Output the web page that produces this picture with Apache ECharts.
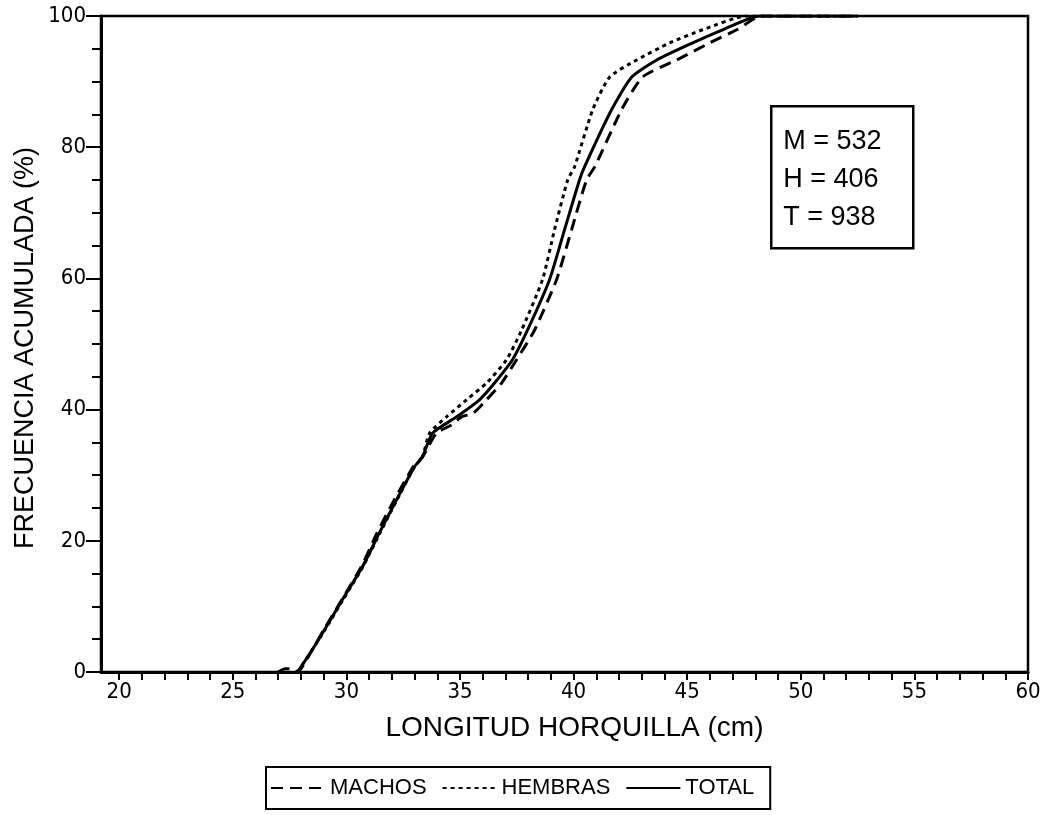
<!DOCTYPE html>
<html>
<head>
<meta charset="utf-8">
<script src="https://cdn.jsdelivr.net/npm/echarts@6/dist/echarts.min.js"></script>
<style>html,body{margin:0;padding:0;background:#fff}#c{width:1046px;height:815px}</style>
</head>
<body>
<div id="c"></div>
<script>
// ---- data (longitud horquilla cm, frecuencia acumulada %) ----
const machosX = [27.0, 27.3, 27.7, 27.85, 28.5, 29.0, 29.8, 30.65, 31.35, 32.1, 32.95, 33.35, 33.96, 34.6, 35.07, 35.6, 36.17, 36.83, 37.49, 38.28, 39.25, 39.91, 40.57, 40.93, 42.11, 43.04, 44.54, 45.99, 47.18, 48.28, 52.5];
const machosY = [0, 0.5, 0.5, 0, 3.4, 6.4, 11, 16, 21.2, 26.2, 31.3, 32.8, 36.4, 37.6, 38.9, 39.5, 41.5, 44.05, 47.6, 52.1, 59.8, 67.4, 75, 77, 85.7, 90.7, 93.3, 95.9, 97.9, 100, 100];
const hembrasX = [27.85, 28.5, 29.05, 29.85, 30.72, 31.48, 32.22, 33.0, 33.35, 33.66, 34.41, 35.29, 36.17, 37.05, 37.71, 38.63, 39.16, 39.74, 40.04, 40.84, 41.59, 42.78, 44.23, 45.68, 47.62, 52.5];
const hembrasY = [0, 3.4, 6.4, 11, 16, 21.2, 26.2, 31.3, 32.8, 36.4, 38.9, 41.5, 44.05, 47.6, 52.1, 59.8, 67.4, 75, 77, 85.7, 90.7, 93.3, 95.9, 97.9, 100, 100];
const totalX = [27.85, 28.5, 29.03, 29.82, 30.7, 31.45, 32.2, 33.0, 33.35, 33.79, 34.85, 35.86, 36.52, 37.31, 37.97, 38.94, 39.6, 40.26, 40.48, 41.67, 42.56, 43.66, 45.24, 46.56, 48.19, 52.5];
const totalY = [0, 3.4, 6.4, 11, 16, 21.2, 26.2, 31.3, 32.8, 36.4, 38.9, 41.5, 44.05, 47.6, 52.1, 59.8, 67.4, 75, 77, 85.7, 90.7, 93.3, 95.9, 97.9, 100, 100];

const seriesNames = ['MACHOS', 'HEMBRAS', 'TOTAL'];
const xTickValues = [20,21,22,23,24,25,26,27,28,29,30,31,32,33,34,35,36,37,38,39,40,41,42,43,44,45,46,47,48,49,50,51,52,53,54,55,56,57,58,59,60];
const xLabelValues = [20, 25, 30, 35, 40, 45, 50, 55, 60];
const yLabelValues = [0, 20, 40, 60, 80, 100];
const statLabels = ['M', 'H', 'T'];
const statValues = [532, 406, 938];

const xTitle = 'LONGITUD HORQUILLA (cm)';
const yTitle = 'FRECUENCIA ACUMULADA (%)';

const COND = "'DejaVu Sans Condensed', 'Liberation Sans Narrow', 'Liberation Sans', sans-serif";
const SANS = "'Liberation Sans', Arial, sans-serif";

function pairs(xs, ys) { return xs.map((x, i) => [x, ys[i]]); }

const chart = echarts.init(document.getElementById('c'), null, { renderer: 'canvas' });

const lineBase = { type: 'line', symbol: 'none', smooth: 0.2, animation: false, z: 3 };

chart.setOption({
  backgroundColor: '#fff',
  animation: false,
  grid: { left: 101, right: 18, top: 16, bottom: 143, show: true, borderColor: '#000', borderWidth: 2.5, backgroundColor: 'transparent' },
  xAxis: {
    type: 'value', min: 19.2, max: 60,
    name: xTitle, nameLocation: 'middle', nameGap: 42, nameMoveOverlap: false,
    nameTextStyle: { fontFamily: SANS, fontSize: 28, color: '#000', padding: [0, 0, 0, 20] },
    axisLine: { lineStyle: { color: '#000', width: 3 } },
    axisTick: { show: true, customValues: xTickValues, length: 8, lineStyle: { color: '#000', width: 2 } },
    axisLabel: { show: true, customValues: xLabelValues, margin: 9, fontFamily: COND, fontSize: 22, color: '#000' },
    splitLine: { show: false }
  },
  yAxis: {
    type: 'value', min: 0, max: 100, interval: 20,
    name: yTitle, nameLocation: 'middle', nameGap: 62, nameRotate: 90, nameMoveOverlap: false,
    nameTextStyle: { fontFamily: SANS, fontSize: 27, color: '#000', padding: [0, 8, 0, 0] },
    axisLine: { show: true, lineStyle: { color: '#000', width: 3 } },
    axisTick: { show: true, length: 15, lineStyle: { color: '#000', width: 2 } },
    minorTick: { show: true, splitNumber: 4, length: 9, lineStyle: { color: '#000', width: 2 } },
    axisLabel: { margin: 15, fontFamily: COND, fontSize: 22, color: '#000', customValues: yLabelValues },
    splitLine: { show: false }
  },
  legend: {
    data: seriesNames,
    left: 266, top: 767,
    orient: 'horizontal',
    backgroundColor: '#fff',
    borderColor: '#000', borderWidth: 2, borderRadius: 0,
    padding: [10, 16, 10, 4],
    itemWidth: 54, itemHeight: 14, itemGap: 15,
    itemStyle: { opacity: 0 },
    textStyle: { fontFamily: SANS, fontSize: 22, color: '#000' }
  },
  series: [
    Object.assign({}, lineBase, { name: seriesNames[0], data: pairs(machosX, machosY), lineStyle: { color: '#000', width: 3, type: [12, 7] }, itemStyle: { color: '#000' } }),
    Object.assign({}, lineBase, { name: seriesNames[1], data: pairs(hembrasX, hembrasY), lineStyle: { color: '#000', width: 3, type: [4, 4] }, itemStyle: { color: '#000' } }),
    Object.assign({}, lineBase, { name: seriesNames[2], data: pairs(totalX, totalY), lineStyle: { color: '#000', width: 3, type: 'solid' }, itemStyle: { color: '#000' } })
  ],
  graphic: [
    {
      type: 'group', left: 770, top: 105,
      children: [
        { type: 'rect', shape: { x: 0, y: 0, width: 142, height: 142 }, style: { fill: '#fff', stroke: '#000', lineWidth: 2.5 } },
      ].concat(statLabels.map((l, i) => ({
        type: 'text', x: 12, y: 35 + i * 38,
        style: { text: l + ' = ' + statValues[i], fontFamily: SANS, fontSize: 27, fill: '#000', textVerticalAlign: 'middle' }
      })))
    }
  ]
});
</script>
</body>
</html>
